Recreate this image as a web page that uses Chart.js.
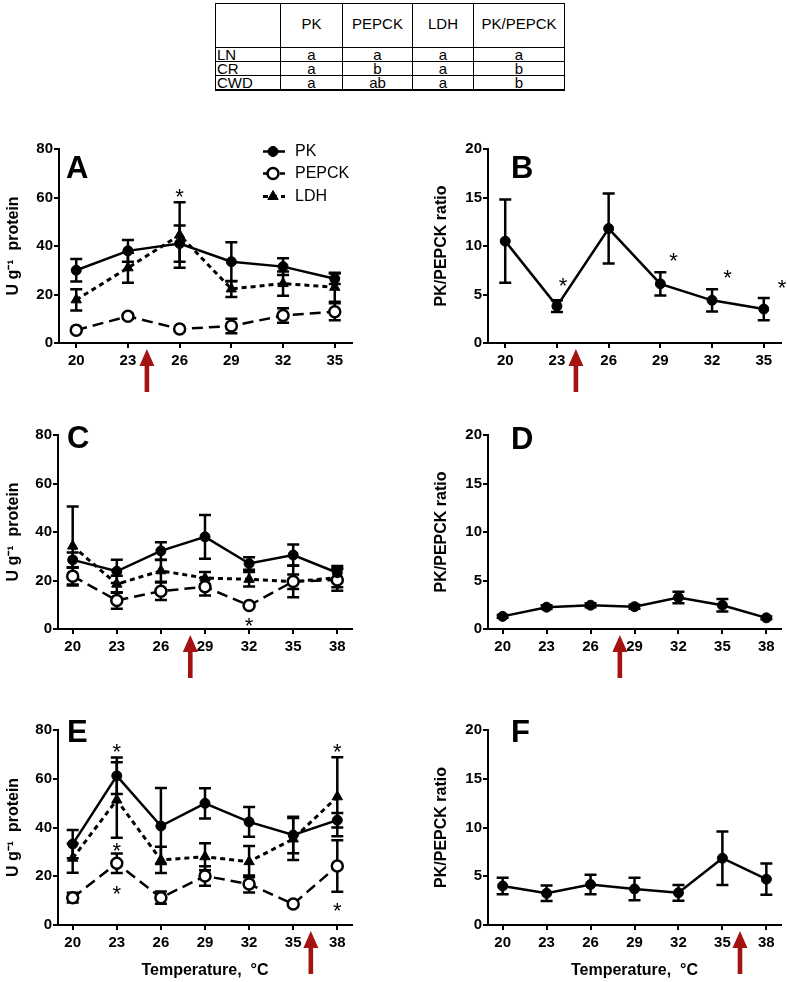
<!DOCTYPE html>
<html>
<head>
<meta charset="utf-8">
<script src="https://cdn.jsdelivr.net/npm/chart.js@4.4.0/dist/chart.umd.min.js"></script>
<style>
  body { margin: 0; background: #fff; }
  #fig { position: relative; width: 787px; height: 982px; font-family: "Liberation Sans", Arial, sans-serif; }
  #fig canvas { position: absolute; }
  #tbl { position: absolute; left: 215px; top: 3px; border-collapse: collapse; table-layout: fixed; font-size: 15px; line-height: 13px; color: #000; }
  #tbl td { border: 1px solid #000; padding: 0; text-align: center; height: 13px; }
  #tbl tr:first-child td { height: 39px; padding-bottom: 4px; }
  #tbl td.lab { text-align: left; padding-left: 1px; }
  #tbl tr:last-child td { border-bottom: 2px solid #000; }
</style>
</head>
<body>
<div id="fig">
  <table id="tbl"></table>
  <canvas id="pA" width="390" height="270" style="left:0;top:130px"></canvas>
  <canvas id="pB" width="397" height="270" style="left:390px;top:130px"></canvas>
  <canvas id="pC" width="390" height="290" style="left:0;top:400px"></canvas>
  <canvas id="pD" width="397" height="290" style="left:390px;top:400px"></canvas>
  <canvas id="pE" width="390" height="292" style="left:0;top:690px"></canvas>
  <canvas id="pF" width="397" height="292" style="left:390px;top:690px"></canvas>
</div>
<script>
// table of significance letters
const tableCols = ['PK', 'PEPCK', 'LDH', 'PK/PEPCK'];
const tableRows = ['LN', 'CR', 'CWD'];
const tableLetters = [
  ['a', 'a', 'a', 'a'],
  ['a', 'b', 'a', 'b'],
  ['a', 'ab', 'a', 'b']
];

// temperatures (x) and axis ticks
const tempsLN = [20, 23, 26, 29, 32, 35];
const tempsCR = [20, 23, 26, 29, 32, 35, 38];
const tempsCWD = [20, 23, 26, 29, 32, 35, 38];
const enzymeTicks = [0, 20, 40, 60, 80];
const ratioTicks = [0, 5, 10, 15, 20];

// A: LN enzymes (U g-1 protein), mean and SEM
const pkA = [30, 38, 41, 33.5, 31.5, 26.5];
const pkErrA = [4.6, 4.5, 7.5, 8, 3.5, 2.2];
const pepckA = [5.3, 11, 5.8, 7, 11.3, 12.9];
const pepckErrA = [0, 1, 0, 3, 3, 3.5];
const ldhA = [17.8, 31, 44.5, 22.3, 24.5, 23];
const ldhErrA = [4.4, 6.2, 13.5, 3.3, 5, 6];
// B: LN ratio
const ratioB = [10.5, 3.8, 11.8, 6.1, 4.4, 3.5];
const ratioErrB = [4.3, 0.6, 3.6, 1.2, 1.15, 1.15];

// C: CR enzymes
const pkC = [28.5, 23.8, 32.2, 38, 27, 30.5, 23.2];
const pkErrC = [3, 4.8, 3.6, 9, 2.6, 4.3, 2.8];
const pepckC = [21.8, 11.8, 15.6, 17.4, 9.7, 19.6, 20.2];
const pepckErrC = [3.5, 3.4, 3.6, 3.6, 0, 6.5, 4.4];
const ldhC = [34.2, 18.5, 24, 21, 20.5, 19.5, 21.2];
const ldhErrC = [16.3, 3.5, 4.5, 2.5, 3, 3, 4];
// D: CR ratio
const ratioD = [1.3, 2.25, 2.45, 2.3, 3.25, 2.45, 1.15];
const ratioErrD = [0.15, 0.2, 0.2, 0.2, 0.6, 0.65, 0.15];

// E: CWD enzymes
const pkE = [33.2, 61.2, 40.6, 49.9, 42.3, 36.9, 43];
const pkErrE = [5.8, 7.5, 15.6, 6.2, 6.1, 7.5, 3];
const pepckE = [11.2, 25.3, 11.2, 20.1, 16.8, 8.6, 24.2];
const pepckErrE = [2, 4, 2.5, 4, 3.5, 0, 10.6];
const ldhE = [27.4, 51.3, 26.7, 28, 26, 35.3, 52.6];
const ldhErrE = [6, 15.5, 5.4, 5.5, 6.4, 8.6, 16.2];
// F: CWD ratio
const ratioF = [4.0, 3.25, 4.15, 3.7, 3.3, 6.85, 4.7];
const ratioErrF = [0.85, 0.8, 1.0, 1.15, 0.8, 2.75, 1.6];

// significance asterisks [temperature, value]
const starsA = [[26, 62.5]];
const starsB = [[23.35, 6.5], [29.77, 9.1], [32.9, 7.3], [36.06, 6.3]];
const starsC = [[32, 3.8]];
const starsE = [[23, 73.4], [23, 32.8], [23, 15], [38, 73.4], [38, 8.2]];

// red arrows (temperature)
const arrowLN = 24.1;
const arrowCR = 28;
const arrowCWD = 36.2;

const FONT = '"Liberation Sans", Arial, sans-serif';
const ARROW_RED = '#a51212';

const styles = {
  PK: { width: 2.5, dash: [], point: 'circle', radius: 5, fill: '#000', pointBorder: 1 },
  PEPCK: { width: 2.5, dash: [11, 6], point: 'circle', radius: 5.5, fill: '#fff', pointBorder: 2.5 },
  LDH: { width: 3, dash: [5, 4], point: 'triangle', radius: 6, fill: '#000', pointBorder: 1 },
  ratio: { width: 2.5, dash: [], point: 'circle', radius: 5, fill: '#000', pointBorder: 1 }
};

function buildTable() {
  const t = document.getElementById('tbl');
  let html = '<colgroup><col style="width:65px"><col style="width:62px"><col style="width:70px"><col style="width:61px"><col style="width:91px"></colgroup>';
  html += '<tr><td></td>' + tableCols.map(c => '<td>' + c + '</td>').join('') + '</tr>';
  tableRows.forEach((r, i) => {
    html += '<tr><td class="lab">' + r + '</td>' + tableLetters[i].map(c => '<td>' + c + '</td>').join('') + '</tr>';
  });
  t.innerHTML = html;
}
buildTable();

function decor(p) {
  return {
    id: 'decor',
    beforeDatasetsDraw(chart) {
      const { ctx, scales: { x, y } } = chart;
      ctx.save();
      ctx.strokeStyle = '#000';
      ctx.lineWidth = 2.5;
      chart.data.datasets.forEach(ds => {
        ds.data.forEach((pt, i) => {
          const e = ds.errors[i];
          if (!e) return;
          const px = x.getPixelForValue(pt.x);
          const yt = y.getPixelForValue(pt.y + e);
          const yb = y.getPixelForValue(pt.y - e);
          ctx.beginPath();
          ctx.moveTo(px, yt); ctx.lineTo(px, yb);
          ctx.moveTo(px - 6, yt); ctx.lineTo(px + 6, yt);
          ctx.moveTo(px - 6, yb); ctx.lineTo(px + 6, yb);
          ctx.stroke();
        });
      });
      ctx.restore();
    },
    afterDraw(chart) {
      const { ctx, chartArea, scales: { x, y } } = chart;
      ctx.save();
      // panel letter
      ctx.fillStyle = '#000';
      ctx.font = 'bold 31px ' + FONT;
      ctx.textBaseline = 'alphabetic';
      ctx.textAlign = 'left';
      ctx.fillText(p.letter, p.letterPos[0], p.letterPos[1]);
      // asterisks
      ctx.font = '22px ' + FONT;
      ctx.textAlign = 'center';
      (p.stars || []).forEach(s => {
        ctx.fillText('*', x.getPixelForValue(s[0]), y.getPixelForValue(s[1]) + 13);
      });
      // red arrow under the x axis
      const ax = x.getPixelForValue(p.arrow);
      const tip = chartArea.bottom + 6;
      const end = chartArea.bottom + 49;
      ctx.fillStyle = ARROW_RED;
      ctx.beginPath();
      ctx.moveTo(ax, tip);
      ctx.lineTo(ax + 7.5, tip + 17);
      ctx.lineTo(ax + 2.3, tip + 17);
      ctx.lineTo(ax + 2.3, end);
      ctx.lineTo(ax - 2.3, end);
      ctx.lineTo(ax - 2.3, tip + 17);
      ctx.lineTo(ax - 7.5, tip + 17);
      ctx.closePath();
      ctx.fill();
      // legend
      if (p.legend) {
        ctx.font = '16px ' + FONT;
        ctx.textAlign = 'left';
        ctx.textBaseline = 'middle';
        chart.data.datasets.forEach((ds, i) => {
          const ly = p.legend.y[i];
          ctx.strokeStyle = '#000';
          ctx.lineWidth = ds.borderWidth;
          ctx.setLineDash(ds.borderDash);
          ctx.beginPath();
          ctx.moveTo(p.legend.x, ly);
          ctx.lineTo(p.legend.x + 22, ly);
          ctx.stroke();
          ctx.setLineDash([]);
          ctx.lineWidth = ds.pointBorderWidth;
          ctx.fillStyle = ds.pointBackgroundColor;
          Chart.helpers.drawPoint(ctx, { pointStyle: ds.pointStyle, radius: ds.pointRadius, borderWidth: ds.pointBorderWidth, rotation: 0 }, p.legend.x + 10, ly);
          ctx.fillStyle = '#000';
          ctx.fillText(ds.label, p.legend.x + 32, ly);
        });
      }
      ctx.restore();
    }
  };
}

function panel(id, p) {
  const datasets = p.series.map(s => {
    const st = styles[s.style];
    return {
      label: s.label,
      data: p.temps.map((t, i) => ({ x: t, y: s.values[i] })),
      errors: s.errors,
      borderColor: '#000',
      borderWidth: st.width,
      borderDash: st.dash,
      pointStyle: st.point,
      pointRadius: st.radius,
      pointHoverRadius: st.radius,
      pointBackgroundColor: st.fill,
      pointBorderColor: '#000',
      pointBorderWidth: st.pointBorder,
      tension: 0,
      fill: false
    };
  });
  const tickFont = { family: FONT, size: 15, weight: 'bold' };
  new Chart(document.getElementById(id), {
    type: 'line',
    data: { datasets },
    options: {
      responsive: false,
      animation: false,
      events: [],
      layout: { padding: { top: p.area.top, left: 0, right: p.area.right, bottom: 0 } },
      plugins: { legend: { display: false }, tooltip: { enabled: false } },
      scales: {
        x: {
          type: 'linear',
          min: p.xRange[0],
          max: p.xRange[1],
          afterBuildTicks: s => { s.ticks = p.temps.map(v => ({ value: v })); },
          afterFit: s => { s.height = p.area.xh; },
          grid: { display: true, drawOnChartArea: false, drawTicks: true, tickLength: 5, color: '#000', lineWidth: 2 },
          border: { display: true, color: '#000', width: 2 },
          ticks: { color: '#000', font: tickFont, padding: 4, maxRotation: 0 },
          title: p.xTitle
            ? { display: true, text: 'Temperature,  \u00B0C', color: '#000', font: { family: FONT, size: 16, weight: 'bold' }, padding: { top: 0, bottom: 2 } }
            : { display: false }
        },
        y: {
          min: 0,
          max: p.yTicks[p.yTicks.length - 1],
          afterBuildTicks: s => { s.ticks = p.yTicks.map(v => ({ value: v })); },
          afterFit: s => { s.width = p.area.yw; },
          grid: { display: true, drawOnChartArea: false, drawTicks: true, tickLength: 5, color: '#000', lineWidth: 2 },
          border: { display: true, color: '#000', width: 2 },
          ticks: { color: '#000', font: tickFont, padding: 1 },
          title: { display: true, text: p.yTitle, color: '#000', font: { family: FONT, size: 16, weight: 'bold' }, padding: { top: p.yTitlePad, bottom: 0 } }
        }
      }
    },
    plugins: [decor(p)]
  });
}

const enzTitle = 'U g\u207B\u00B9  protein';
const ratioTitle = 'PK/PEPCK ratio';

panel('pA', {
  temps: tempsLN, xRange: [19, 36], yTicks: enzymeTicks, yTitle: enzTitle, yTitlePad: 3.5,
  area: { top: 19, right: 38, yw: 59, xh: 57 },
  series: [
    { label: 'PK', style: 'PK', values: pkA, errors: pkErrA },
    { label: 'PEPCK', style: 'PEPCK', values: pepckA, errors: pepckErrA },
    { label: 'LDH', style: 'LDH', values: ldhA, errors: ldhErrA }
  ],
  letter: 'A', letterPos: [66, 48], stars: starsA, arrow: arrowLN,
  legend: { x: 263, y: [21.5, 43.5, 66.5] }
});
panel('pB', {
  temps: tempsLN, xRange: [19, 36], yTicks: ratioTicks, yTitle: ratioTitle, yTitlePad: 42,
  area: { top: 19, right: 5, yw: 98, xh: 57 },
  series: [{ label: 'PK/PEPCK', style: 'ratio', values: ratioB, errors: ratioErrB }],
  letter: 'B', letterPos: [121, 48], stars: starsB, arrow: arrowLN
});
panel('pC', {
  temps: tempsCR, xRange: [19, 39], yTicks: enzymeTicks, yTitle: enzTitle, yTitlePad: 3.5,
  area: { top: 35, right: 38, yw: 58, xh: 61 },
  series: [
    { label: 'PK', style: 'PK', values: pkC, errors: pkErrC },
    { label: 'PEPCK', style: 'PEPCK', values: pepckC, errors: pepckErrC },
    { label: 'LDH', style: 'LDH', values: ldhC, errors: ldhErrC }
  ],
  letter: 'C', letterPos: [67, 48], stars: starsC, arrow: arrowCR
});
panel('pD', {
  temps: tempsCR, xRange: [19, 39], yTicks: ratioTicks, yTitle: ratioTitle, yTitlePad: 42,
  area: { top: 35, right: 5, yw: 98, xh: 61 },
  series: [{ label: 'PK/PEPCK', style: 'ratio', values: ratioD, errors: ratioErrD }],
  letter: 'D', letterPos: [121, 49], arrow: arrowCR
});
panel('pE', {
  temps: tempsCWD, xRange: [19, 39], yTicks: enzymeTicks, yTitle: enzTitle, yTitlePad: 3.5, xTitle: true,
  area: { top: 40, right: 38, yw: 58, xh: 57 },
  series: [
    { label: 'PK', style: 'PK', values: pkE, errors: pkErrE },
    { label: 'PEPCK', style: 'PEPCK', values: pepckE, errors: pepckErrE },
    { label: 'LDH', style: 'LDH', values: ldhE, errors: ldhErrE }
  ],
  letter: 'E', letterPos: [67, 52], stars: starsE, arrow: arrowCWD
});
panel('pF', {
  temps: tempsCWD, xRange: [19, 39], yTicks: ratioTicks, yTitle: ratioTitle, yTitlePad: 42, xTitle: true,
  area: { top: 40, right: 5, yw: 98, xh: 57 },
  series: [{ label: 'PK/PEPCK', style: 'ratio', values: ratioF, errors: ratioErrF }],
  letter: 'F', letterPos: [121, 52], arrow: arrowCWD
});
</script>
</body>
</html>
